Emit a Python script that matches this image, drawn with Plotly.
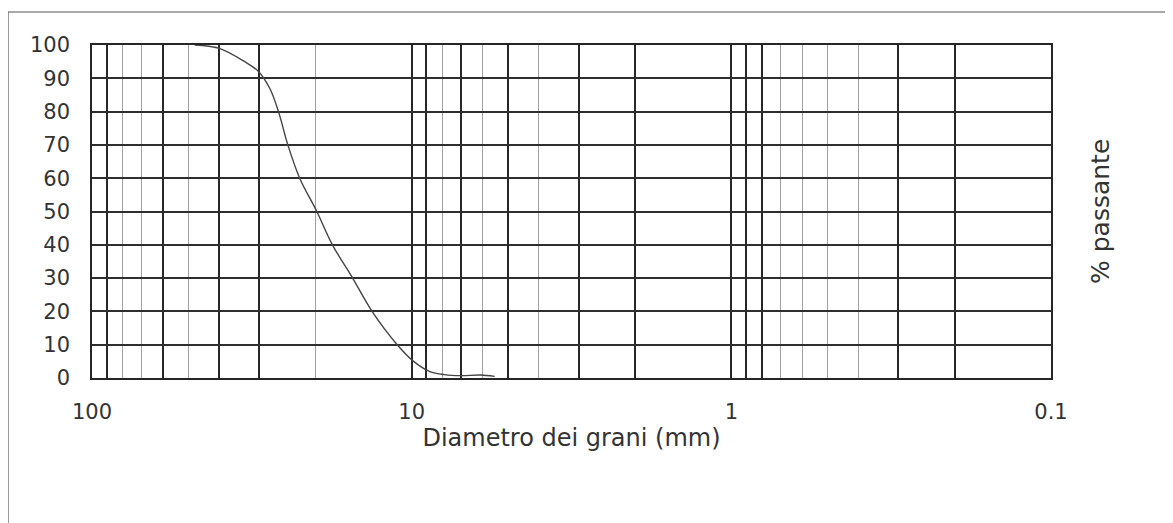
import plotly.graph_objects as go

# Data (grain size distribution curve)
diametro_mm = [47.7, 40.0, 33.3, 30.1, 27.8, 26.1, 24.4, 22.4, 19.8, 17.7, 15.3, 13.3, 11.1, 9.86, 8.8, 7.9, 7.0, 6.1, 5.5]
passante_pct = [100, 99, 95, 92, 87, 80, 70, 60, 50, 40, 30, 20, 10, 5, 2, 1, 0.7, 0.9, 0.5]

# Vertical grid lines (mm)
dark_grid = [100, 90, 60, 40, 30, 10, 9, 7, 5, 3, 2, 1, 0.9, 0.8, 0.3, 0.2, 0.1]
light_grid = [80, 70, 50, 20, 8, 6, 4, 0.7, 0.6, 0.5, 0.4]
labelled = {100: "100", 10: "10", 1: "1", 0.1: "0.1"}
x_ticktext = [labelled.get(v, "") for v in dark_grid]

y_ticks = list(range(0, 101, 10))

# page body has an 8px margin: figure drawn 8px in from the window edge
OFF = 8
W, H = 1173 - OFF, 523 - OFF
PLOT_L, PLOT_R, PLOT_T, PLOT_B = 92, 1051, 45, 378   # target window pixels
ML, MT = PLOT_L - OFF, PLOT_T - OFF
PW, PH = PLOT_R - PLOT_L, PLOT_B - PLOT_T
MR, MB = W - ML - PW, H - MT - PH

def px_to_paper_x(px):
    return (px - PLOT_L) / PW

def px_to_paper_y(py):
    return (PLOT_B - py) / PH

FONT = "DejaVu Sans"
TXT = "#333333"

fig = go.Figure()
fig.add_trace(go.Scatter(
    x=diametro_mm, y=passante_pct, mode="lines",
    line=dict(color="#444444", width=1.4, shape="spline", smoothing=1.0),
    showlegend=False, hoverinfo="x+y",
))

fig.update_layout(
    width=W, height=H,
    margin=dict(l=ML, r=MR, t=MT, b=MB, autoexpand=False),
    paper_bgcolor="white", plot_bgcolor="white",
    font=dict(family=FONT, color=TXT, size=21),
    xaxis=dict(
        type="log", range=[2, -1],
        tickmode="array", tickvals=dark_grid, ticktext=x_ticktext,
        showgrid=True, gridcolor="#262626", gridwidth=1.6,
        minor=dict(tickvals=light_grid, showgrid=True, gridcolor="#a0a0a0", gridwidth=1.2, ticks=""),
        ticks="", ticklabelstandoff=14,
        showline=True, linecolor="#262626", linewidth=1.6, mirror=True,
        zeroline=False,
        tickfont=dict(size=21, color=TXT),
        title=dict(text="Diametro dei grani (mm)", font=dict(size=24, color=TXT), standoff=4),
    ),
    yaxis=dict(
        range=[0, 100], tickmode="array", tickvals=y_ticks,
        showgrid=True, gridcolor="#2e2e2e", gridwidth=1.6,
        ticks="", ticklabelstandoff=16,
        showline=True, linecolor="#262626", linewidth=1.6, mirror=True,
        zeroline=False,
        tickfont=dict(size=21, color=TXT),
    ),
    annotations=[dict(
        text="% passante", textangle=-90, showarrow=False,
        xref="paper", yref="paper",
        x=px_to_paper_x(1100), y=px_to_paper_y(212),
        xanchor="center", yanchor="middle",
        font=dict(size=25, color=TXT, family=FONT),
    )],
    shapes=[
        dict(type="line", xref="paper", yref="paper",
             x0=px_to_paper_x(8), x1=px_to_paper_x(1180),
             y0=px_to_paper_y(12), y1=px_to_paper_y(12),
             line=dict(color="#555555", width=1.2)),
        dict(type="line", xref="paper", yref="paper",
             x0=px_to_paper_x(8), x1=px_to_paper_x(8),
             y0=px_to_paper_y(12), y1=px_to_paper_y(530),
             line=dict(color="#555555", width=1.2)),
    ],
)

fig.write_html("out.html")
